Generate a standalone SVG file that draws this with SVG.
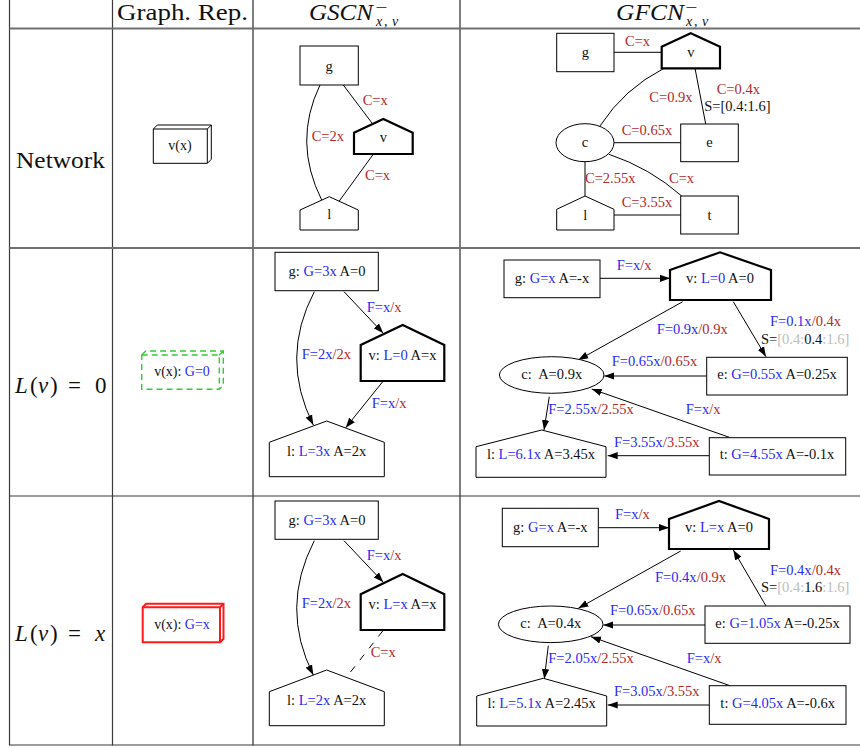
<svg xmlns="http://www.w3.org/2000/svg" width="860" height="748" viewBox="0 0 860 748">
<style>
text{font-family:"Liberation Serif","Times New Roman",serif;fill:#111}
.h{font-size:23px}
.n{font-size:14.5px;text-anchor:middle}
.l{font-size:14.5px}
.gr{font-size:14px;text-anchor:middle}
.b{fill:#2a2af5}
.r{fill:#b22a2a}
.q{fill:#bdbdbd}
.k{fill:#111}
.it{font-style:italic}
.sh{fill:#fff;stroke:#000;stroke-width:1}
.bold{stroke-width:2.2}
.e{fill:none;stroke:#000;stroke-width:1}
.ea{fill:none;stroke:#000;stroke-width:1;marker-end:url(#ah)}
.grid{stroke:#3a3a3a;stroke-width:1.2;fill:none}
.grid2{stroke:#707070;stroke-width:1.8;fill:none}
</style>
<defs>
<marker id="ah" markerWidth="11" markerHeight="8" refX="10" refY="4" orient="auto" markerUnits="userSpaceOnUse">
<path d="M0,0.4 L10,4 L0,7.6 z" fill="#000"/>
</marker>
</defs>
<rect x="0" y="0" width="860" height="748" fill="#fff"/>

<g id="grid">
<line class="grid" x1="9.5" y1="0" x2="9.5" y2="745.5"/>
<line class="grid" x1="112.5" y1="0" x2="112.5" y2="745.5"/>
<line class="grid2" x1="253" y1="0" x2="253" y2="745.5"/>
<line class="grid2" x1="460" y1="0" x2="460" y2="745.5"/>
<line class="grid2" x1="9.5" y1="28.5" x2="860" y2="28.5"/>
<line class="grid2" x1="9.5" y1="248" x2="860" y2="248"/>
<line class="grid" x1="9.5" y1="496" x2="860" y2="496"/>
<line class="grid" x1="9.5" y1="745" x2="860" y2="745"/>
</g>

<g id="headers">
<text class="h" x="117" y="20" textLength="131" lengthAdjust="spacingAndGlyphs">Graph. Rep.</text>
<text class="h it" x="309" y="20" textLength="64" lengthAdjust="spacingAndGlyphs">GSCN</text>
<text x="375" y="11" font-size="11" textLength="12" lengthAdjust="spacingAndGlyphs">−</text>
<text x="376" y="26" font-size="14" class="it"><tspan x="376">x</tspan><tspan x="384">,</tspan><tspan x="392">v</tspan></text>
<text class="h it" x="616" y="20" textLength="68" lengthAdjust="spacingAndGlyphs">GFCN</text>
<text x="685" y="11" font-size="11" textLength="12" lengthAdjust="spacingAndGlyphs">−</text>
<text x="686" y="26" font-size="14" class="it"><tspan x="686">x</tspan><tspan x="694">,</tspan><tspan x="702">v</tspan></text>
</g>

<g id="row-labels">
<text class="h" x="16" y="168" textLength="89" lengthAdjust="spacingAndGlyphs">Network</text>
<text class="h" font-size="24"><tspan class="it" x="15" y="393">L</tspan><tspan x="30" y="393">(</tspan><tspan class="it" x="38" y="393">v</tspan><tspan x="50" y="393">)</tspan><tspan x="68" y="393">=</tspan><tspan x="95" y="393">0</tspan></text>
<text class="h" font-size="24"><tspan class="it" x="15" y="641">L</tspan><tspan x="30" y="641">(</tspan><tspan class="it" x="38" y="641">v</tspan><tspan x="50" y="641">)</tspan><tspan x="68" y="641">=</tspan><tspan class="it" x="95" y="641">x</tspan></text>
</g>

<g id="rep-network">
<path class="sh" d="M153.3,129 L157.3,125 L211.3,125 L211.3,159.3 L207.3,163.3 L153.3,163.3 Z"/>
<path class="e" d="M153.3,129 L207.3,129 L207.3,163.3 M207.3,129 L211.3,125"/>
<text class="gr" x="180" y="150">v(x)</text>
</g>
<g id="rep-l0">
<path d="M141.7,355 L145.7,351 L223.3,351 L223.3,385.3 L219.3,389.3 L141.7,389.3 Z M219.3,355 L223.3,351" fill="none" stroke="#33cc33" stroke-width="1.4" stroke-dasharray="6,4"/>
<path d="M141.7,355 L219.3,355 L219.3,389.3" fill="none" stroke="#33cc33" stroke-width="1.4" stroke-dasharray="6,4"/>
<text class="gr" x="182" y="376">v(x): <tspan class="b">G=0</tspan></text>
</g>
<g id="rep-lx">
<path d="M142.7,607.3 L146.2,603.8 L223.5,603.8 L223.5,638.8 L220,642.3 L142.7,642.3 Z" fill="#fff" stroke="#ff1a1a" stroke-width="2"/>
<path d="M142.7,607.3 L220,607.3 L220,642.3 M220,607.3 L223.5,603.8" fill="none" stroke="#ff1a1a" stroke-width="2"/>
<text class="gr" x="182" y="629">v(x): <tspan class="b">G=x</tspan></text>
</g>

<!-- ============ Row 1 GSCN ============ -->
<g id="edges-r1-gscn">
<path class="e" d="M343.3,85 L372.7,124"/>
<path class="e" d="M320,85 Q292.6,141.8 321.7,200"/>
<path class="e" d="M372.7,155 L339.3,201"/>
<text class="l r" x="362.7" y="105">C=x</text>
<text class="l r" x="311.7" y="141">C=2x</text>
<text class="l r" x="365" y="180">C=x</text>
</g>
<g id="r1s-g"><rect class="sh" x="300" y="46" width="58.3" height="39"/><text class="n" x="329" y="71">g</text></g>
<g id="r1s-v"><path class="sh bold" d="M354,154 L354,132.7 L383.3,119 L412.7,132.7 L412.7,154 Z"/><text class="n" x="383.3" y="142">v</text></g>
<g id="r1s-l"><path class="sh" d="M300,230 L300,210 L329.3,196.7 L358.3,210 L358.3,230 Z"/><text class="n" x="329.2" y="219">l</text></g>

<!-- ============ Row 1 GFCN ============ -->
<g id="edges-r1-gfcn">
<path class="e" d="M614,52.3 L661.7,52.3"/>
<path class="e" d="M664,68.3 Q624,88.8 600,126"/>
<path class="e" d="M695,68.3 L705.7,124"/>
<path class="e" d="M614,142.7 L680.7,142.7"/>
<path class="e" d="M609,154.3 Q650,168 681.7,196"/>
<path class="e" d="M585,161.7 L585,196"/>
<path class="e" d="M614,215 L680.7,215"/>
<text class="l r" x="625" y="46">C=x</text>
<text class="l r" x="649.3" y="102">C=0.9x</text>
<text class="l r" x="716.7" y="93.5">C=0.4x</text>
<text class="l k" x="704.3" y="111">S=[0.4:1.6]</text>
<text class="l r" x="621.7" y="134.5">C=0.65x</text>
<text class="l r" x="669" y="183">C=x</text>
<text class="l r" x="585" y="183">C=2.55x</text>
<text class="l r" x="621.7" y="207">C=3.55x</text>
</g>
<g id="r1f-g"><rect class="sh" x="556.7" y="33.3" width="57.3" height="38.4"/><text class="n" x="585.3" y="57">g</text></g>
<g id="r1f-v"><path class="sh bold" d="M661.7,68.3 L661.7,46.7 L690.7,33.3 L720,46.7 L720,68.3 Z"/><text class="n" x="690.8" y="57">v</text></g>
<g id="r1f-c"><ellipse class="sh" cx="585" cy="142.7" rx="29" ry="19"/><text class="n" x="585" y="147">c</text></g>
<g id="r1f-e"><rect class="sh" x="680.7" y="124" width="57.6" height="37.7"/><text class="n" x="709.5" y="147">e</text></g>
<g id="r1f-l"><path class="sh" d="M556.7,230 L556.7,209.3 L585,196 L614,209.3 L614,230 Z"/><text class="n" x="585.3" y="220">l</text></g>
<g id="r1f-t"><rect class="sh" x="680.7" y="196" width="57.6" height="38"/><text class="n" x="709.5" y="220">t</text></g>

<!-- ============ Row 2 GSCN ============ -->
<g id="edges-r2-gscn">
<path class="ea" d="M344,291.7 L383.3,333.3"/>
<path class="ea" d="M314.3,291.7 Q279.6,357.7 313.3,425"/>
<path class="ea" d="M382.7,381.7 L345.7,427.7"/>
<text class="l" x="366.7" y="311.7"><tspan class="b">F=x</tspan><tspan class="r">/x</tspan></text>
<text class="l" x="301.7" y="359.3"><tspan class="b">F=2x</tspan><tspan class="r">/2x</tspan></text>
<text class="l" x="371.7" y="407.7"><tspan class="b">F=x</tspan><tspan class="r">/x</tspan></text>
</g>
<g id="r2s-g"><rect class="sh" x="275" y="252.3" width="103.3" height="38.4"/><text class="n" x="327" y="275.5">g: <tspan class="b">G=3x</tspan> A=0</text></g>
<g id="r2s-v"><path class="sh bold" d="M360.7,381 L360.7,345 L402.7,325 L444.3,345 L444.3,381 Z"/><text class="n" x="402.5" y="359.5">v: <tspan class="b">L=0</tspan> A=x</text></g>
<g id="r2s-l"><path class="sh" d="M269.3,476.7 L269.3,442.3 L326.7,421 L384.3,442.3 L384.3,476.7 Z"/><text class="n" x="326.7" y="456">l: <tspan class="b">L=3x</tspan> A=2x</text></g>

<!-- ============ Row 2 GFCN ============ -->
<g id="edges-r2-gfcn">
<path class="ea" d="M600,278.3 L670,278.3"/>
<path class="ea" d="M682.7,301.7 L578.3,360"/>
<path class="ea" d="M733.3,301.7 L766,356.7"/>
<path class="ea" d="M706.7,376 L604.3,376"/>
<path class="ea" d="M549.3,396.7 L544,430"/>
<path class="ea" d="M729.3,437.3 L591.7,389"/>
<path class="ea" d="M709.3,455.7 L607.7,455.7"/>
<text class="l" x="616.7" y="270"><tspan class="b">F=x</tspan><tspan class="r">/x</tspan></text>
<text class="l" x="656.7" y="334.3"><tspan class="b">F=0.9x</tspan><tspan class="r">/0.9x</tspan></text>
<text class="l" x="770" y="326"><tspan class="b">F=0.1x</tspan><tspan class="r">/0.4x</tspan></text>
<text class="l" x="761" y="343.7"><tspan class="k">S=</tspan><tspan class="q">[0.4:</tspan><tspan class="k">0.4</tspan><tspan class="q">:1.6]</tspan></text>
<text class="l" x="611.7" y="366"><tspan class="b">F=0.65x</tspan><tspan class="r">/0.65x</tspan></text>
<text class="l" x="548.3" y="414.3"><tspan class="b">F=2.55x</tspan><tspan class="r">/2.55x</tspan></text>
<text class="l" x="685.7" y="414.3"><tspan class="b">F=x</tspan><tspan class="r">/x</tspan></text>
<text class="l" x="614" y="446.7"><tspan class="b">F=3.55x</tspan><tspan class="r">/3.55x</tspan></text>
</g>
<g id="r2f-g"><rect class="sh" x="504" y="260" width="96" height="37.7"/><text class="n" x="552" y="282.5">g: <tspan class="b">G=x</tspan> A=-x</text></g>
<g id="r2f-v"><path class="sh bold" d="M670,300 L670,270 L720,252.3 L771,270 L771,300 Z"/><text class="n" x="720" y="282.5">v: <tspan class="b">L=0</tspan> A=0</text></g>
<g id="r2f-c"><ellipse class="sh" cx="551.7" cy="375" rx="52.3" ry="18.3"/><text class="n" x="551.7" y="378.5" xml:space="preserve">c:  A=0.9x</text></g>
<g id="r2f-e"><rect class="sh" x="706.7" y="357.3" width="140.6" height="37.7"/><text class="n" x="777" y="378.5">e: <tspan class="b">G=0.55x</tspan> A=0.25x</text></g>
<g id="r2f-l"><path class="sh" d="M476,477.3 L476,446.7 L541.7,430 L606,446.7 L606,477.3 Z"/><text class="n" x="541" y="458.5">l: <tspan class="b">L=6.1x</tspan> A=3.45x</text></g>
<g id="r2f-t"><rect class="sh" x="709.3" y="437.7" width="136.4" height="37.3"/><text class="n" x="777" y="458.5">t: <tspan class="b">G=4.55x</tspan> A=-0.1x</text></g>

<!-- ============ Row 3 GSCN ============ -->
<g id="edges-r3-gscn">
<path class="ea" d="M344,540.7 L383.3,582.3"/>
<path class="ea" d="M314.3,540.7 Q279.6,607.8 313.3,675"/>
<path class="e" d="M382.7,631 L346,677.7" stroke-dasharray="7,8"/>
<text class="l" x="366.7" y="560"><tspan class="b">F=x</tspan><tspan class="r">/x</tspan></text>
<text class="l" x="301.7" y="608.3"><tspan class="b">F=2x</tspan><tspan class="r">/2x</tspan></text>
<text class="l r" x="370.7" y="656.7">C=x</text>
</g>
<g id="r3s-g"><rect class="sh" x="275" y="501" width="103.3" height="38.3"/><text class="n" x="327" y="524.5">g: <tspan class="b">G=3x</tspan> A=0</text></g>
<g id="r3s-v"><path class="sh bold" d="M360.7,630 L360.7,594.3 L402.7,574 L444.3,594.3 L444.3,630 Z"/><text class="n" x="402.5" y="608.5">v: <tspan class="b">L=x</tspan> A=x</text></g>
<g id="r3s-l"><path class="sh" d="M269.3,725.7 L269.3,691.7 L326.7,670 L384.3,691.7 L384.3,725.7 Z"/><text class="n" x="326.7" y="704.5">l: <tspan class="b">L=2x</tspan> A=2x</text></g>

<!-- ============ Row 3 GFCN ============ -->
<g id="edges-r3-gfcn">
<path class="ea" d="M598.3,527.7 L669,527.7"/>
<path class="ea" d="M680.7,551 L578.3,608.3"/>
<path class="ea" d="M766,606 L733.3,550"/>
<path class="ea" d="M705,625 L603.3,625"/>
<path class="ea" d="M548.3,645.7 L544.3,679"/>
<path class="ea" d="M730,685.7 L591,636.7"/>
<path class="ea" d="M709.3,705 L607.7,705"/>
<text class="l" x="615" y="519"><tspan class="b">F=x</tspan><tspan class="r">/x</tspan></text>
<text class="l" x="655" y="582.3"><tspan class="b">F=0.4x</tspan><tspan class="r">/0.9x</tspan></text>
<text class="l" x="770" y="575"><tspan class="b">F=0.4x</tspan><tspan class="r">/0.4x</tspan></text>
<text class="l" x="761" y="592.3"><tspan class="k">S=</tspan><tspan class="q">[0.4:</tspan><tspan class="k">1.6</tspan><tspan class="q">:1.6]</tspan></text>
<text class="l" x="610" y="615"><tspan class="b">F=0.65x</tspan><tspan class="r">/0.65x</tspan></text>
<text class="l" x="548.3" y="663.3"><tspan class="b">F=2.05x</tspan><tspan class="r">/2.55x</tspan></text>
<text class="l" x="686.7" y="663.3"><tspan class="b">F=x</tspan><tspan class="r">/x</tspan></text>
<text class="l" x="614" y="695.7"><tspan class="b">F=3.05x</tspan><tspan class="r">/3.55x</tspan></text>
</g>
<g id="r3f-g"><rect class="sh" x="502.3" y="508.3" width="96" height="38.4"/><text class="n" x="550.3" y="531.7">g: <tspan class="b">G=x</tspan> A=-x</text></g>
<g id="r3f-v"><path class="sh bold" d="M669,549 L669,519 L719,501 L769,519 L769,549 Z"/><text class="n" x="719" y="531.5">v: <tspan class="b">L=x</tspan> A=0</text></g>
<g id="r3f-c"><ellipse class="sh" cx="550.7" cy="624.3" rx="52.3" ry="18.3"/><text class="n" x="550.7" y="628" xml:space="preserve">c:  A=0.4x</text></g>
<g id="r3f-e"><rect class="sh" x="705" y="606" width="145" height="37.3"/><text class="n" x="777.5" y="628">e: <tspan class="b">G=1.05x</tspan> A=-0.25x</text></g>
<g id="r3f-l"><path class="sh" d="M476.7,726 L476.7,696 L543.3,678.3 L606.7,696 L606.7,726 Z"/><text class="n" x="541.7" y="708">l: <tspan class="b">L=5.1x</tspan> A=2.45x</text></g>
<g id="r3f-t"><rect class="sh" x="709.3" y="685.7" width="136.7" height="38.6"/><text class="n" x="777.7" y="708">t: <tspan class="b">G=4.05x</tspan> A=-0.6x</text></g>
</svg>
